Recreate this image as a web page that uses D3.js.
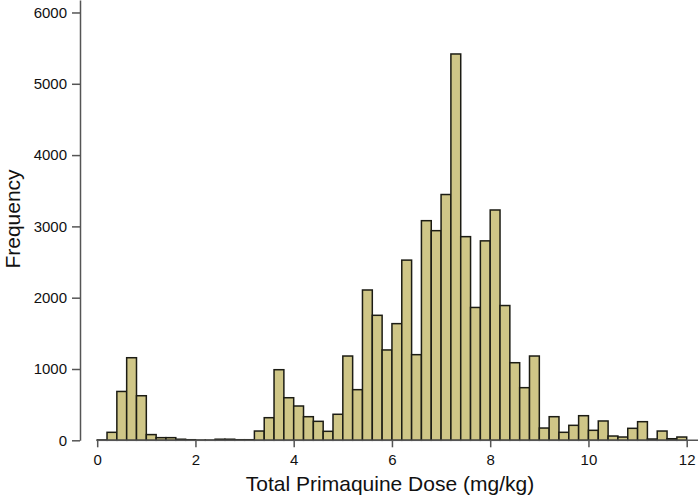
<!DOCTYPE html>
<html>
<head>
<meta charset="utf-8">
<script src="https://cdn.jsdelivr.net/npm/d3@7"></script>
<style>
  body { margin: 0; background: #fff; }
  svg { display: block; font-family: Arial, "Liberation Sans", sans-serif; }
</style>
</head>
<body>
<script>
// histogram bins, width 0.2 mg/kg, starting at 0
var binStart = 0
var binWidth = 0.2
var counts = [
  5, 112, 685, 1158, 625, 80, 37, 37, 15, 8,
  3, 3, 15, 15, 8, 8, 130, 317, 990, 597,
  481, 331, 266, 126, 365, 1182, 710, 2108, 1753, 1267,
  1636, 2527, 1201, 3080, 2940, 3447, 5418, 2856, 1863, 2797,
  3230, 1890, 1088, 738, 1182, 172, 331, 112, 210, 345,
  140, 271, 60, 46, 168, 261, 18, 130, 22, 46
]
var xTicks = [0, 2, 4, 6, 8, 10, 12]
var yTicks = [0, 1000, 2000, 3000, 4000, 5000, 6000]
var xEnd = 12.23

var bins = counts.map(function(c, i) {
  return {x0: binStart + i*binWidth, x1: binStart + (i+1)*binWidth, n: c}
})

var width = 700, height = 496

var svg = d3.select("body")
            .append("svg")
            .attr("width", width)
            .attr("height", height)

var x = d3.scaleLinear().domain([-0.35, xEnd]).range([80, 698])
var y = d3.scaleLinear().domain([0, 6175]).range([440.3, 0])

svg.selectAll("rect.bar")
   .data(bins).enter()
   .append("rect")
   .attr("class", "bar")
   .attr("x", function(d) {return x(d.x0)})
   .attr("y", function(d) {return y(d.n)})
   .attr("width", function(d) {return x(d.x1) - x(d.x0)})
   .attr("height", function(d) {return y(0) - y(d.n)})
   .attr("fill", "#cfc687")
   .attr("stroke", "#1c1c14")
   .attr("stroke-width", 1.5)

// y axis
var yAxis = svg.append("g")
  .attr("transform", "translate(80,0)")
  .call(d3.axisLeft(y).tickValues(yTicks).tickFormat(d3.format("d")).tickSize(8).tickPadding(5).tickSizeOuter(0))
yAxis.selectAll("text").attr("font-size", "15px").attr("fill", "#111")
yAxis.selectAll("line, path").attr("stroke", "#555").attr("stroke-width", 1.5)

// x axis, line drawn only from 0 onward
var xAxis = svg.append("g")
  .attr("transform", "translate(0," + y(0) + ")")
  .call(d3.axisBottom(x).tickValues(xTicks).tickFormat(d3.format("d")).tickSize(7).tickPadding(7))
xAxis.select(".domain").remove()
xAxis.append("line")
  .attr("x1", x(0)).attr("x2", x(xEnd))
  .attr("y1", 0).attr("y2", 0)
xAxis.selectAll("text").attr("font-size", "15px").attr("fill", "#111")
xAxis.selectAll("line").attr("stroke", "#555").attr("stroke-width", 1.5)

svg.append("text")
  .attr("x", 390)
  .attr("y", 491)
  .attr("text-anchor", "middle")
  .attr("font-size", "21px")
  .attr("fill", "#111")
  .text("Total Primaquine Dose (mg/kg)")

svg.append("text")
  .attr("transform", "translate(20,219) rotate(-90)")
  .attr("text-anchor", "middle")
  .attr("font-size", "21px")
  .attr("fill", "#111")
  .text("Frequency")
</script>
</body>
</html>
